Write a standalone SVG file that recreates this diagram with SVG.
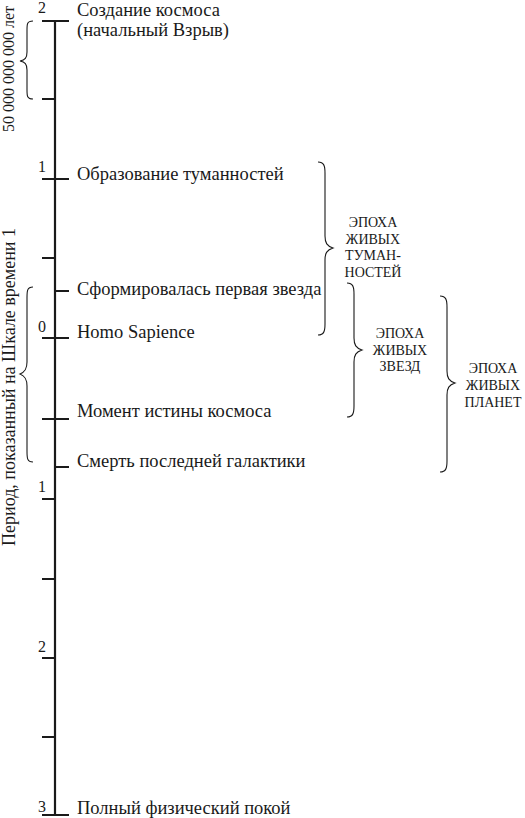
<svg xmlns="http://www.w3.org/2000/svg" width="525" height="818" viewBox="0 0 525 818">
<style>
.ax{stroke:#1a1a1a;stroke-width:2.2;fill:none}
.br{stroke:#1a1a1a;stroke-width:1.1;fill:none}
.t{font-family:"Liberation Serif","Times New Roman",serif;font-size:18.5px;fill:#1a1a1a}
.n{font-family:"Liberation Serif","Times New Roman",serif;font-size:16px;fill:#1a1a1a;text-anchor:middle}
.e{font-family:"Liberation Serif","Times New Roman",serif;font-size:14px;fill:#1a1a1a;text-anchor:middle}
.r{font-family:"Liberation Serif","Times New Roman",serif;font-size:16px;fill:#1a1a1a;text-anchor:middle}
</style>
<rect width="525" height="818" fill="#fff"/>
<g id="axis">
<line class="ax" x1="55" y1="20" x2="55" y2="816"/>
<path class="ax" d="M42,21H55M42,99H55M42,179H55M42,258H55M42,338H55M42,419H55M42,499H55M42,579H55M42,658H55M42,737H55M42,815H55"/>
<path class="ax" d="M55,21H69M55,179H69M55,291H69M55,338H69M55,419H69M55,467H69M55,815H69"/>
<text class="n" x="42" y="13">2</text>
<text class="n" x="42" y="172">1</text>
<text class="n" x="42" y="332">0</text>
<text class="n" x="42" y="492">1</text>
<text class="n" x="42" y="652">2</text>
<text class="n" x="42" y="812">3</text>
</g>
<g id="events">
<text class="t" x="77" y="16">Создание космоса</text>
<text class="t" x="77" y="36">(начальный Взрыв)</text>
<text class="t" x="77" y="180">Образование туманностей</text>
<text class="t" x="77" y="295">Сформировалась первая звезда</text>
<text class="t" x="77" y="338">Homo Sapience</text>
<text class="t" x="77" y="417">Момент истины космоса</text>
<text class="t" x="77" y="467">Смерть последней галактики</text>
<text class="t" x="77" y="814">Полный физический покой</text>
</g>
<g id="left-braces">
<path class="br" d="M33,21C27,21 27,24 27,30L27,52C27,58 25,60 20,61C25,62 27,64 27,70L27,90C27,96 27,99 33,99"/>
<text class="r" transform="translate(14,69) rotate(-90)">50 000 000 000 лет</text>
<path class="br" d="M33,287C27,287 27,291 27,298L27,362C27,369 25,372 20,374C25,376 27,379 27,386L27,451C27,458 27,462 33,462"/>
<text class="r" style="font-size:18px" transform="translate(15,387) rotate(-90)">Период, показанный на Шкале времени 1</text>
</g>
<g id="epoch-nebulae">
<path class="br" d="M318,162C324,162 325,166 325,173L325,236C325,243 327,246 333,248C327,250 325,253 325,260L325,324C325,331 324,335 318,335"/>
<text class="e" x="373" y="227">ЭПОХА</text>
<text class="e" x="373" y="244">ЖИВЫХ</text>
<text class="e" x="373" y="260">ТУМАН-</text>
<text class="e" x="373" y="277">НОСТЕЙ</text>
</g>
<g id="epoch-stars">
<path class="br" d="M347,283C353,283 354,287 354,294L354,338C354,345 356,348 362,350C356,352 354,355 354,362L354,406C354,413 353,417 347,417"/>
<text class="e" x="400" y="338">ЭПОХА</text>
<text class="e" x="400" y="355">ЖИВЫХ</text>
<text class="e" x="400" y="371">ЗВЕЗД</text>
</g>
<g id="epoch-planets">
<path class="br" d="M440,296C446,296 447,300 447,307L447,371C447,378 449,381 455,383C449,385 447,388 447,395L447,461C447,468 446,472 440,472"/>
<text class="e" x="493" y="373">ЭПОХА</text>
<text class="e" x="493" y="390">ЖИВЫХ</text>
<text class="e" x="493" y="407">ПЛАНЕТ</text>
</g>
</svg>
